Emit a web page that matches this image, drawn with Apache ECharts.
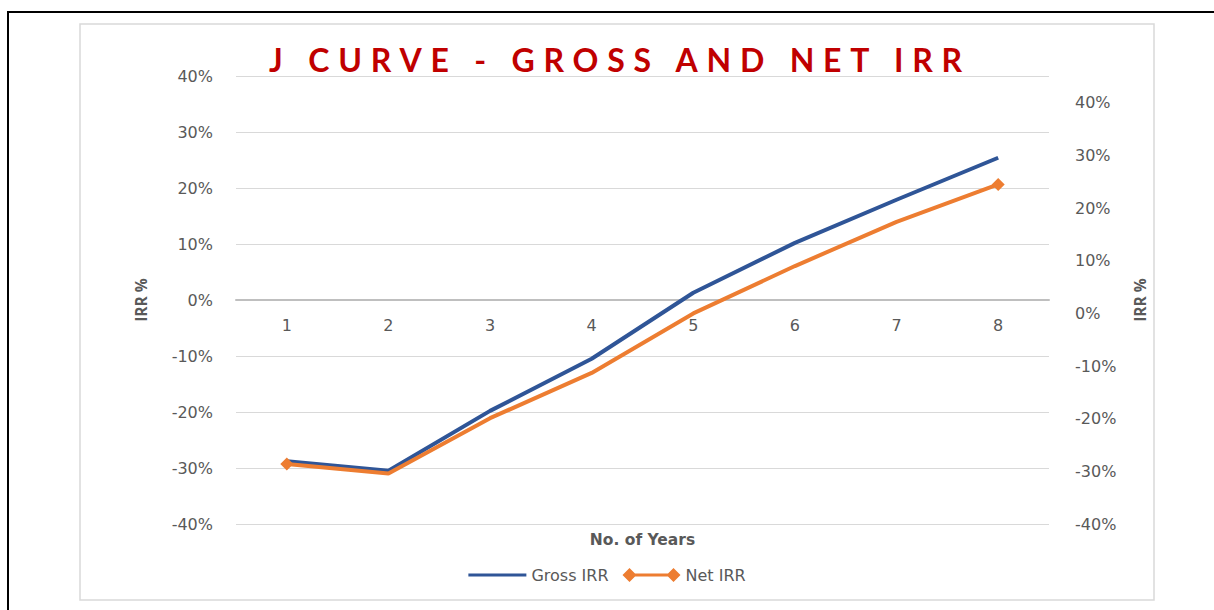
<!DOCTYPE html>
<html>
<head>
<meta charset="utf-8">
<script src="https://cdn.jsdelivr.net/npm/echarts@6/dist/echarts.min.js"></script>
<style>
  html, body { margin: 0; padding: 0; background: #fff; }
  #chart { width: 1214px; height: 610px; }
</style>
</head>
<body>
<div id="chart"></div>
<script>
const chartTitle = 'J CURVE - GROSS AND NET IRR';
const categories = ['1', '2', '3', '4', '5', '6', '7', '8'];
const grossIRR = [-28.8, -30.5, -19.8, -10.5, 1.3, 10.2, 17.9, 25.4];
const netIRR = [-28.6, -30.4, -19.9, -11.3, 0.0, 9.0, 17.4, 24.5];
const leftTicks = { min: -40, max: 40, interval: 10 };
const rightTicks = { min: -40, max: 45.1, interval: 10 };
const seriesNames = ['Gross IRR', 'Net IRR'];

const chart = echarts.init(document.getElementById('chart'), null, { renderer: 'svg' });

const labelStyle = { color: '#595959', fontSize: 16, fontFamily: 'DejaVu Sans' };
const pct = v => Math.round(v) + '%';

// Net IRR shows markers only on first and last points
const netData = netIRR.map((v, i) => (i === 0 || i === netIRR.length - 1) ? v : { value: v, symbol: 'none' });

const grossIcon = 'path://M0,5.5 L58,5.5 L58,8.5 L0,8.5 Z M0,0 L0,0 M0,14 L0,14';
const netIcon = 'path://M0,7 L7,0 L14,7 L7,14 Z M7,5.5 L51,5.5 L51,8.5 L7,8.5 Z M44,7 L51,0 L58,7 L51,14 Z';

chart.setOption({
  animation: false,
  backgroundColor: '#ffffff',
  graphic: [
    { type: 'polyline', shape: { points: [[8, 610], [8, 12], [1214, 12]] }, style: { stroke: '#000', lineWidth: 2, fill: null }, silent: true },
    { type: 'rect', shape: { x: 80, y: 24, width: 1074, height: 576 }, style: { stroke: '#D9D9D9', lineWidth: 1.5, fill: null }, silent: true },
    { type: 'text', id: 'ttl', x: 620, y: 59, style: { text: chartTitle, fill: '#C00000', font: 'bold 32px Lato', align: 'center', verticalAlign: 'middle' }, silent: true }
  ],
  legend: {
    data: [
      { name: seriesNames[0], icon: grossIcon },
      { name: seriesNames[1], icon: netIcon }
    ],
    top: 562,
    left: 'center',
    itemWidth: 58,
    itemHeight: 14,
    itemGap: 14,
    textStyle: { color: '#595959', fontSize: 16, fontFamily: 'DejaVu Sans' }
  },
  grid: { left: 236, right: 165, top: 76, bottom: 86, containLabel: false, outerBoundsMode: 'none' },
  xAxis: {
    type: 'category',
    data: categories,
    boundaryGap: true,
    axisLine: { onZero: true, onZeroAxisIndex: 0, lineStyle: { color: '#BFBFBF', width: 2 } },
    axisTick: { show: false },
    // labels sit just below the 0% line, as in the reference
    axisLabel: Object.assign({ margin: -207 }, labelStyle),
    name: 'No. of Years',
    nameLocation: 'middle',
    nameGap: 8,
    nameMoveOverlap: false,
    nameTextStyle: { color: '#595959', fontSize: 15.5, fontWeight: 'bold', fontFamily: 'DejaVu Sans' }
  },
  yAxis: [
    {
      type: 'value',
      min: leftTicks.min, max: leftTicks.max, interval: leftTicks.interval,
      axisLine: { show: false }, axisTick: { show: false },
      splitLine: { lineStyle: { color: '#D9D9D9', width: 1 } },
      axisLabel: Object.assign({ margin: 23, formatter: pct }, labelStyle),
      name: 'IRR %', nameLocation: 'middle', nameGap: 87, nameRotate: 90,
      nameTextStyle: { color: '#595959', fontSize: 15.5, fontWeight: 'bold', fontFamily: 'Open Sans' }
    },
    {
      type: 'value',
      min: rightTicks.min, max: rightTicks.max, interval: rightTicks.interval,
      position: 'right',
      axisLine: { show: false }, axisTick: { show: false },
      splitLine: { show: false },
      axisLabel: Object.assign({ margin: 26, formatter: pct, showMaxLabel: false }, labelStyle),
      name: 'IRR %', nameLocation: 'middle', nameGap: 83, nameRotate: 90,
      nameTextStyle: { color: '#595959', fontSize: 15.5, fontWeight: 'bold', fontFamily: 'Open Sans' }
    }
  ],
  series: [
    {
      name: seriesNames[0], type: 'line', yAxisIndex: 0,
      data: grossIRR, symbol: 'none',
      lineStyle: { color: '#2F5597', width: 4 },
      itemStyle: { color: '#2F5597' }
    },
    {
      name: seriesNames[1], type: 'line', yAxisIndex: 1,
      data: netData, symbol: 'diamond', symbolSize: 13, showSymbol: true,
      lineStyle: { color: '#ED7D31', width: 4 },
      itemStyle: { color: '#ED7D31' }
    }
  ]
});

function spaceTitle() {
  document.querySelectorAll('#chart svg text').forEach(t => {
    if (t.textContent === chartTitle) t.setAttribute('letter-spacing', '8.8');
  });
}
spaceTitle();
chart.on('finished', spaceTitle);
</script>
</body>
</html>
